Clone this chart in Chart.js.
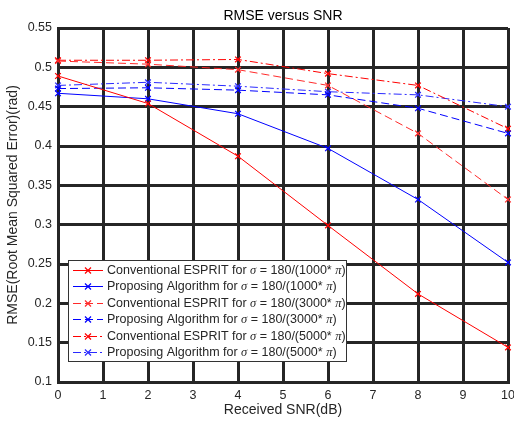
<!DOCTYPE html>
<html>
<head>
<meta charset="utf-8">
<script src="https://cdn.jsdelivr.net/npm/chart.js@4.4.1/dist/chart.umd.min.js"></script>
<style>
  html, body { margin: 0; padding: 0; background: #fff; }
  #wrap { width: 514px; height: 425px; }
</style>
</head>
<body>
<div id="wrap"><canvas id="rmseChart"></canvas></div>
<script>
// values
const snr = [0, 2, 4, 6, 8, 10];
const convEsprit1000 = [0.489, 0.454, 0.387, 0.299, 0.212, 0.144];
const proposing1000  = [0.467, 0.460, 0.441, 0.397, 0.332, 0.252];
const convEsprit3000 = [0.508, 0.504, 0.497, 0.477, 0.416, 0.332];
const proposing3000  = [0.473, 0.474, 0.471, 0.465, 0.448, 0.416];
const convEsprit5000 = [0.509, 0.509, 0.510, 0.492, 0.477, 0.422];
const proposing5000  = [0.477, 0.481, 0.476, 0.469, 0.465, 0.450];

const seriesLabels = [
  'Conventional ESPRIT for σ = 180/(1000* π)',
  'Proposing Algorithm for σ = 180/(1000* π)',
  'Conventional ESPRIT for σ = 180/(3000* π)',
  'Proposing Algorithm for σ = 180/(3000* π)',
  'Conventional ESPRIT for σ = 180/(5000* π)',
  'Proposing Algorithm for σ = 180/(5000* π)'
];

const SANS = '"Liberation Sans", Arial, sans-serif';
const TXT = '#262626';

function pts(arr) {
  return arr.map((v, i) => ({ x: snr[i], y: v }));
}

function series(label, values, color, dash) {
  return {
    label: label,
    data: pts(values),
    borderColor: color,
    backgroundColor: color,
    borderWidth: 1,
    borderDash: dash,
    pointStyle: 'crossRot',
    pointRadius: 4,
    pointBorderWidth: 1.2,
    pointBorderColor: color,
    tension: 0,
    clip: false
  };
}

const DASH = [8, 4];
const DASHDOT = [8, 3, 2, 3];

// title centred over the plot area
const plotTitle = {
  id: 'plotTitle',
  afterDraw(chart) {
    const { ctx, chartArea } = chart;
    ctx.save();
    ctx.font = '14px ' + SANS;
    ctx.fillStyle = '#000';
    ctx.textAlign = 'center';
    ctx.textBaseline = 'middle';
    ctx.fillText('RMSE versus SNR', (chartArea.left + chartArea.right) / 2, chartArea.top - 12);
    ctx.restore();
  }
};

// legend box drawn inside the axes, lower left
const insideLegend = {
  id: 'insideLegend',
  afterDatasetsDraw(chart) {
    const { ctx, chartArea } = chart;
    const x0 = chartArea.left + 10;
    const y0 = chartArea.bottom - 122;
    const w = 278, h = 101, rowH = 16.4;
    ctx.save();
    ctx.fillStyle = '#fff';
    ctx.fillRect(x0, y0, w, h);
    ctx.strokeStyle = '#333';
    ctx.lineWidth = 1;
    ctx.strokeRect(x0 + 0.5, y0 + 0.5, w, h);

    chart.data.datasets.forEach((ds, i) => {
      const y = Math.round(y0 + 10 + i * rowH) + 0.5;
      ctx.strokeStyle = ds.borderColor;
      ctx.lineWidth = 1;
      ctx.setLineDash(ds.borderDash || []);
      ctx.beginPath();
      ctx.moveTo(x0 + 5, y);
      ctx.lineTo(x0 + 35, y);
      ctx.stroke();
      ctx.setLineDash([]);
      const mx = x0 + 20, r = 3;
      ctx.lineWidth = 1.2;
      ctx.beginPath();
      ctx.moveTo(mx - r, y - r); ctx.lineTo(mx + r, y + r);
      ctx.moveTo(mx - r, y + r); ctx.lineTo(mx + r, y - r);
      ctx.stroke();

      let tx = x0 + 39;
      ctx.fillStyle = TXT;
      ctx.textBaseline = 'middle';
      ctx.textAlign = 'left';
      ds.label.split(/([σπ])/).forEach(part => {
        if (!part) return;
        ctx.font = (part === 'σ' || part === 'π') ? 'italic 12.5px "Liberation Serif", serif' : '12.5px ' + SANS;
        ctx.fillText(part, tx, y);
        tx += ctx.measureText(part).width;
      });
    });
    ctx.restore();
  }
};

const ctx = document.getElementById('rmseChart').getContext('2d');
new Chart(ctx, {
  type: 'line',
  data: {
    datasets: [
      series(seriesLabels[0], convEsprit1000, '#ff0000', []),
      series(seriesLabels[1], proposing1000, '#0000ff', []),
      series(seriesLabels[2], convEsprit3000, '#ff2a2a', DASH),
      series(seriesLabels[3], proposing3000, '#0000ff', DASH),
      series(seriesLabels[4], convEsprit5000, '#ff0000', DASHDOT),
      series(seriesLabels[5], proposing5000, '#2a2aff', DASHDOT)
    ]
  },
  options: {
    responsive: true,
    maintainAspectRatio: false,
    animation: false,
    layout: { padding: { top: 28, right: 6, left: 0, bottom: 0 } },
    plugins: {
      legend: { display: false },
      title: { display: false },
      tooltip: { enabled: false }
    },
    scales: {
      x: {
        type: 'linear',
        min: 0,
        max: 10,
        afterFit: s => { s.height = 43; s.paddingRight = 0; s.paddingLeft = 0; },
        ticks: { stepSize: 1, padding: 6, color: TXT, font: { family: SANS, size: 12.5 } },
        grid: { color: TXT, lineWidth: 3, drawTicks: false },
        border: { color: TXT, width: 3 },
        title: {
          display: true,
          text: 'Received SNR(dB)',
          color: TXT,
          font: { family: SANS, size: 14 },
          padding: { top: 0, bottom: 6 }
        }
      },
      y: {
        min: 0.1,
        max: 0.55,
        afterFit: s => { s.width = 58; },
        ticks: {
          stepSize: 0.05,
          padding: 6,
          color: TXT,
          font: { family: SANS, size: 12.5 },
          callback: v => String(+v.toFixed(2))
        },
        grid: { color: TXT, lineWidth: 3, drawTicks: false },
        border: { color: TXT, width: 3 },
        title: {
          display: true,
          text: 'RMSE(Root Mean Squared Error)(rad)',
          color: TXT,
          font: { family: SANS, size: 14 },
          padding: { top: 5, bottom: 0 }
        }
      }
    }
  },
  plugins: [plotTitle, insideLegend]
});
</script>
</body>
</html>
